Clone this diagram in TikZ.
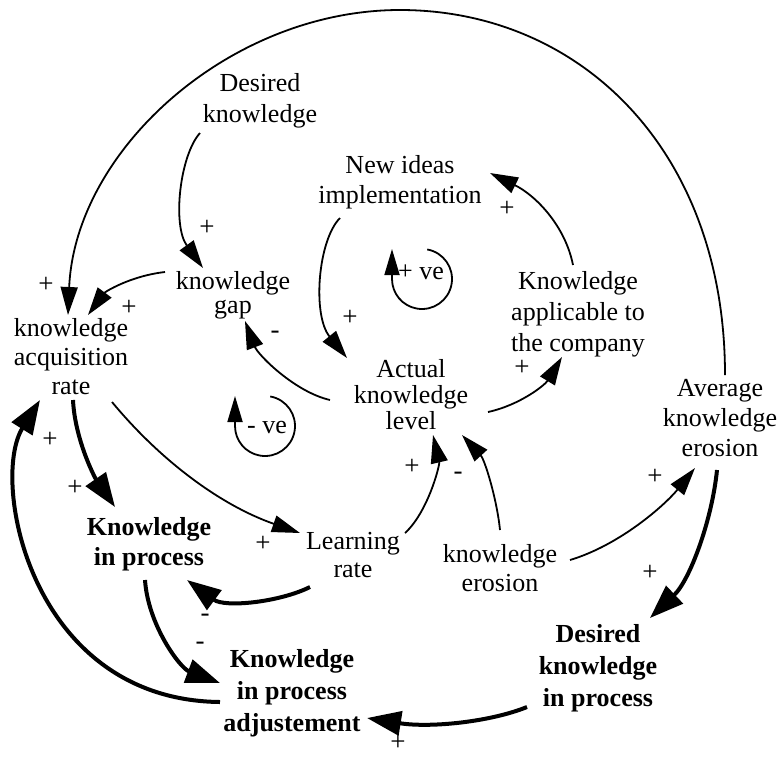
\documentclass[tikz,border=0pt]{standalone}
\usepackage{fontspec}
\setmainfont{Liberation Serif}
\usetikzlibrary{arrows.meta,calc}
\begin{document}
\begin{tikzpicture}[x=1pt,y=-1pt,
  lbl/.style={font=\fontsize{26}{#1}\selectfont, align=center, inner sep=0pt},
  lbl/.default=30,
  blbl/.style={font=\fontsize{26}{#1}\selectfont\bfseries, align=center, inner sep=0pt},
  blbl/.default=32,
  sgn/.style={font=\fontsize{27}{27}\selectfont, inner sep=0pt},
  lnk/.style={line width=1.8pt, -{Triangle[length=28pt,width=17pt]}},
  blnk/.style={line width=4pt, -{Triangle[length=34pt,width=24pt]}},
  loopln/.style={line width=1.8pt, -{Triangle[length=26pt,width=15pt]}}]
\useasboundingbox (0,0) rectangle (781,756);

% nodes
\node[lbl=31] (dk) at (260,101) {Desired\\knowledge};
\node[lbl=30] (ni) at (400,182) {New ideas\\implementation};
\node[lbl=24] (gap) at (233,295) {knowledge\\gap};
\node[lbl=29] (kar) at (71,357) {knowledge\\acquisition\\rate};
\node[lbl=31] (kac) at (578,314) {Knowledge\\applicable to\\the company};
\node[lbl=26] (akl) at (411,395) {Actual\\knowledge\\level};
\node[lbl=30] (ake) at (720,418) {Average\\knowledge\\erosion};
\node[blbl=30] (kip) at (149,544) {Knowledge\\in process};
\node[lbl=28] (lr) at (353,555) {Learning\\rate};
\node[lbl=29] (ke) at (500,568) {knowledge\\erosion};
\node[blbl=32] (dkip) at (598,668) {Desired\\knowledge\\in process};
\node[blbl=32] (kipa) at (292,693) {Knowledge\\in process\\adjustement};

\coordinate (top) at (400,10);
\coordinate (pvc) at (422,279);
\coordinate (nvc) at (265,426);

% loop markers
\node[lbl] (pv) at (421,272) {+ ve};
\draw[loopln] ($(pvc)+(-80:30)$) arc[start angle=-80,end angle=180,radius=30] -- ++(0,-30);
\node[lbl] (nv) at (267,427) {- ve};
\draw[loopln] ($(nvc)+(-80:30)$) arc[start angle=-80,end angle=180,radius=30] -- ++(0,-30);

% thin connectors
\draw[lnk] ($(dk)+(-60,32)$) .. controls (180,155) and (172,225) .. ($(gap)+(-30,-27)$);
\draw[lnk] ($(gap)+(-68,-23)$) .. controls (130,276) and (105,292) .. ($(kar)+(17,-42)$);
\draw[lnk] ($(ake)+(5,-43)$) .. controls (725,150) and (580,10) .. (top)
   .. controls (230,10) and (75,150) .. ($(kar)+(-3,-42)$);
\draw[lnk] ($(ni)+(-60,36)$) .. controls (318,240) and (312,315) .. ($(akl)+(-64,-37)$);
\draw[lnk] ($(kac)+(-5,-49)$) .. controls (565,225) and (535,195) .. ($(ni)+(90,-9)$);
\draw[lnk] ($(akl)+(-81,5)$) .. controls (295,392) and (258,355) .. ($(gap)+(12,26)$);
\draw[lnk] ($(akl)+(77,17)$) .. controls (520,405) and (545,385) .. ($(kac)+(-16,43)$);
\draw[lnk] ($(kar)+(41,45)$) .. controls (160,460) and (220,505) .. ($(lr)+(-53,-22)$);
\draw[lnk] ($(lr)+(52,-22)$) .. controls (428,512) and (440,465) .. ($(akl)+(22,40)$);
\draw[lnk] ($(ke)+(0,-38)$) .. controls (497,500) and (485,460) .. ($(akl)+(51,40)$);
\draw[lnk] ($(ke)+(70,-8)$) .. controls (620,545) and (665,505) .. ($(ake)+(-25,50)$);

% thick connectors
\draw[blnk] ($(kar)+(2,43)$) .. controls (75,440) and (95,478) .. ($(kip)+(-34,-37)$);
\draw[blnk] ($(ake)+(-3,52)$) .. controls (712,520) and (690,580) .. ($(dkip)+(52,-50)$);
\draw[blnk] ($(lr)+(-43,32)$) .. controls (280,602) and (225,608) .. ($(kip)+(38,36)$);
\draw[blnk] ($(kip)+(-4,36)$) .. controls (148,625) and (180,668) .. ($(kipa)+(-72,-10)$);
\draw[blnk] ($(kipa)+(-72,9)$) .. controls (30,700) and (-10,480) .. ($(kar)+(-31,43)$);
\draw[blnk] ($(dkip)+(-71,39)$) .. controls (490,722) and (430,728) .. ($(kipa)+(75,25)$);

% polarity signs
\node[sgn] (s1) at (207,228) {+};
\node[sgn] (s2) at (46,285) {+};
\node[sgn] (s3) at (129,308) {+};
\node[sgn] (s4) at (275,335) {-};
\node[sgn] (s5) at (350,318) {+};
\node[sgn] (s6) at (507,209) {+};
\node[sgn] (s7) at (522,368) {+};
\node[sgn] (s8) at (50,440) {+};
\node[sgn] (s9) at (75,488) {+};
\node[sgn] (s10) at (263,544) {+};
\node[sgn] (s11) at (205,618) {-};
\node[sgn] (s12) at (200,646) {-};
\node[sgn] (s13) at (412,467) {+};
\node[sgn] (s14) at (458,476) {-};
\node[sgn] (s15) at (655,477) {+};
\node[sgn] (s16) at (650,573) {+};
\node[sgn] (s17) at (398,743) {+};
\end{tikzpicture}
\end{document}
